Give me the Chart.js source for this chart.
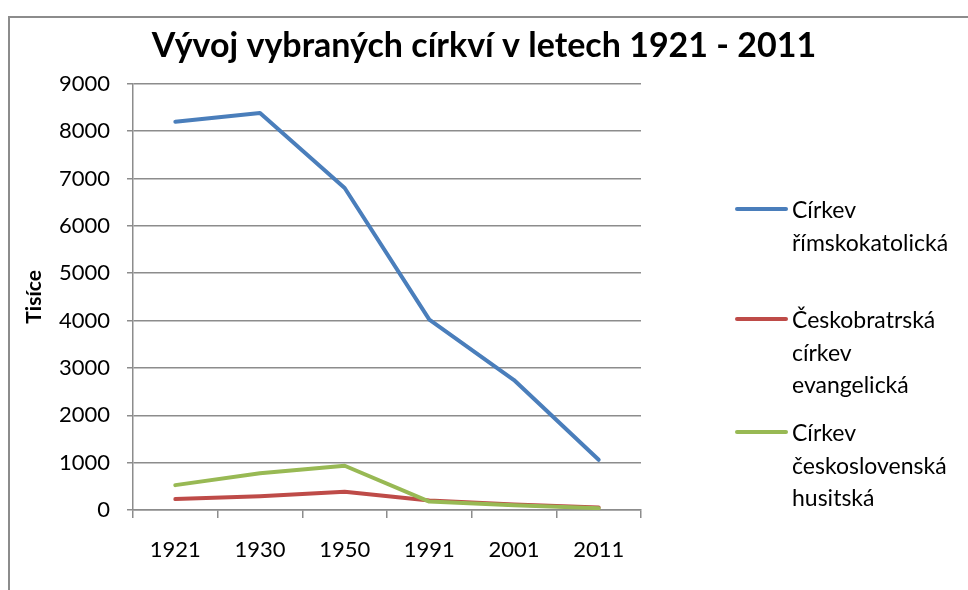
<!DOCTYPE html>
<html>
<head>
<meta charset="utf-8">
<script src="https://cdn.jsdelivr.net/npm/chart.js@4/dist/chart.umd.min.js"></script>
<style>
    html, body { margin: 0; padding: 0; background: #fff; }
    #wrap { position: relative; width: 968px; height: 590px; overflow: hidden; }
    #frame { position: absolute; left: 8px; top: 16px; width: 980px; height: 600px; border: 2px solid #8c8c8c; box-sizing: border-box; }
    #legend { position: absolute; left: 735px; top: 0; font-family: Lato, sans-serif; font-size: 23px; color: #000; }
    .item { position: absolute; left: 0; width: 235px; }
    .swatch { position: absolute; left: 0; width: 53px; height: 4px; border-radius: 2px; top: 14px; }
    .label { position: absolute; left: 57px; width: 175px; line-height: 32.5px; }
</style>
</head>
<body>
<div id="wrap">
    <div id="frame"></div>
    <canvas id="churchCanvas" width="968" height="590"></canvas>
    <div id="legend"></div>
</div>
<script>
// years of the census
const years = ['1921', '1930', '1950', '1991', '2001', '2011'];

// thousands of members
const rimskokatolicka = [8200, 8385, 6800, 4020, 2745, 1060];
const ceskobratrska = [230, 290, 385, 200, 115, 52];
const husitska = [525, 775, 935, 178, 100, 39];

const seriesNames = ['Církev římskokatolická', 'Českobratrská církev evangelická', 'Církev československá husitská'];
const seriesColors = ['#4a7ebb', '#be4b48', '#98b954'];
const legendTops = [193, 303, 416];

const yTicks = [0, 1000, 2000, 3000, 4000, 5000, 6000, 7000, 8000, 9000];

const fontFamily = 'Lato, sans-serif';

function makeDataset(idx, values) {
    return {
        label: seriesNames[idx],
        data: values,
        borderColor: seriesColors[idx],
        backgroundColor: seriesColors[idx],
        borderWidth: 4,
        borderCapStyle: 'round',
        borderJoinStyle: 'round',
        pointRadius: 0,
        tension: 0,
        fill: false,
        order: 2 - idx
    };
}

let ctx = document.getElementById('churchCanvas').getContext('2d');
let churchChart = new Chart(ctx, {
    type: 'line',
    data: {
        labels: years,
        datasets: [
            makeDataset(0, rimskokatolicka),
            makeDataset(1, ceskobratrska),
            makeDataset(2, husitska)
        ]
    },
    options: {
        responsive: false,
        animation: false,
        layout: {
            padding: { left: 0, right: 0, top: 0, bottom: 0 }
        },
        scales: {
            x: {
                offset: true,
                grid: {
                    display: true,
                    offset: true,
                    drawOnChartArea: false,
                    color: '#8c8c8c',
                    lineWidth: 1.5,
                    tickLength: 8
                },
                border: { color: '#8c8c8c', width: 1.5 },
                ticks: {
                    color: '#000',
                    padding: 19,
                    font: { family: fontFamily, size: 22 }
                },
                afterFit: function (scale) { scale.height = 80; }
            },
            y: {
                min: 0,
                max: 9000,
                afterBuildTicks: function (scale) {
                    scale.ticks = yTicks.map(function (v) { return { value: v }; });
                },
                grid: {
                    color: '#8c8c8c',
                    lineWidth: 1.5,
                    tickLength: 6
                },
                border: { color: '#8c8c8c', width: 1.5 },
                ticks: {
                    color: '#000',
                    padding: 17,
                    font: { family: fontFamily, size: 22 },
                    callback: function (value) { return String(value); }
                },
                title: {
                    display: true,
                    text: 'Tisíce',
                    color: '#000',
                    padding: { top: 22, bottom: 0 },
                    font: { family: fontFamily, size: 21, weight: 'bold' }
                },
                afterFit: function (scale) { scale.width = 133; }
            },
            // empty axis on the right, only keeps room for the legend
            legendSpace: {
                type: 'linear',
                position: 'right',
                display: true,
                grid: { display: false },
                border: { display: false },
                ticks: { display: false },
                afterFit: function (scale) { scale.width = 327; }
            }
        },
        plugins: {
            legend: { display: false },
            tooltip: { enabled: false },
            title: {
                display: true,
                text: 'Vývoj vybraných církví v letech 1921 - 2011',
                color: '#000',
                padding: { top: 26, bottom: 17 },
                font: { family: fontFamily, size: 34, weight: 'bold', lineHeight: 1.2 }
            }
        }
    }
});

// legend next to the plot, labels wrap like the original
let legendBox = document.getElementById('legend');
churchChart.data.datasets.forEach(function (ds, i) {
    let item = document.createElement('div');
    item.className = 'item';
    item.style.top = legendTops[i] + 'px';
    item.innerHTML = '<div class="swatch" style="background:' + ds.borderColor + '"></div>' +
        '<div class="label">' + ds.label + '</div>';
    legendBox.appendChild(item);
});
</script>
</body>
</html>
